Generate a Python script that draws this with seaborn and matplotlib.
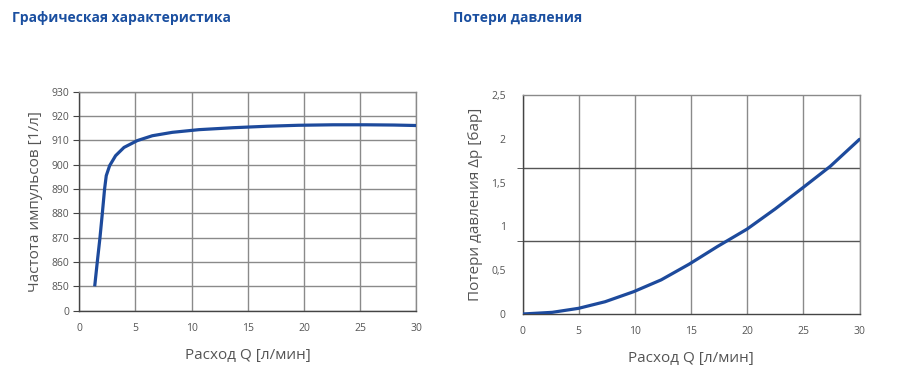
import numpy as np
import pandas as pd
import matplotlib
matplotlib.use('Agg')
import matplotlib.pyplot as plt
import seaborn as sns

# Графическая характеристика: расход [л/мин] -> частота импульсов [1/л]
flow_freq = [1.37, 1.6, 1.84, 2.05, 2.25, 2.4, 2.7, 3.23, 3.98, 5.16, 6.5, 8.28, 10.65,
             13.7, 16.7, 19.5, 22.6, 25.5, 28.0, 30.0]
freq = [850.0, 860.0, 870.0, 880.0, 890.0, 895.5, 899.6, 903.7, 907.1, 909.9, 911.9, 913.3, 914.4,
        915.2, 915.8, 916.2, 916.4, 916.4, 916.3, 916.1]
freq_ticks = [840, 850, 860, 870, 880, 890, 900, 910, 920, 930]
freq_labels = ['0', '850', '860', '870', '880', '890', '900', '910', '920', '930']

# Потери давления: расход [л/мин] -> Δp [бар]
flow_dp = [0, 2.65, 5, 7.35, 9.9, 12.35, 14.85, 17.35, 20, 22.5, 25, 27.4, 30]
dp = [0.0, 0.019, 0.065, 0.14, 0.255, 0.39, 0.57, 0.77, 0.97, 1.2, 1.446, 1.686, 1.994]
dp_values = [0, 0.5, 1, 1.5, 2, 2.5]
dp_labels = ['0', '0,5', '1', '1,5', '2', '2,5']

x_ticks = [0, 5, 10, 15, 20, 25, 30]

sns.set_style('white')
plt.rcParams['font.family'] = ['Open Sans', 'DejaVu Sans']

line_color = '#1d4a9c'
grid_color = '#8a8a8a'
text_color = '#555555'

fig = plt.figure(figsize=(9, 3.8), dpi=100)
W, H = 900, 380
ax1 = fig.add_axes([79.3 / W, 1 - 310.7 / H, 337 / W, 219 / H])
ax2 = fig.add_axes([522.5 / W, 1 - 314 / H, 337 / W, 219 / H])

df1 = pd.DataFrame({'Q': flow_freq, 'f': freq})
df2 = pd.DataFrame({'Q': flow_dp, 'dp': dp})

# левый график
ax1.set_xlim(0, 30)
ax1.set_ylim(840, 930)
ax1.set_xticks(x_ticks)
ax1.set_yticks(freq_ticks)
ax1.set_yticklabels(freq_labels)
ax1.grid(True, color=grid_color, lw=1)
sns.lineplot(data=df1, x='Q', y='f', ax=ax1, color=line_color, lw=2.3, zorder=3,
             solid_capstyle='butt')
ax1.set_xlabel('Расход Q [л/мин]', fontsize=11, color=text_color, labelpad=10)
ax1.set_ylabel('Частота импульсов [1/л]', fontsize=11, color=text_color, labelpad=6)
ax1.tick_params(axis='y', which='major', direction='out', length=4, color='#444444', left=True)

# правый график: подписи по шагу 0,5, линии сетки по третям
ax2.set_xlim(0, 30)
ax2.set_ylim(0, 2.5)
ax2.set_xticks(x_ticks)
ax2.set_yticks(dp_values)
ax2.set_yticklabels(dp_labels)
ax2.set_yticks([2.5 / 3, 5 / 3], minor=True)
ax2.tick_params(axis='y', which='major', length=0, pad=12)
ax2.tick_params(axis='y', which='minor', direction='out', length=4, color='#444444', left=True)
ax2.xaxis.grid(True, color=grid_color, lw=1)
ax2.yaxis.grid(True, which='minor', color='#555555', lw=1)
ax2.yaxis.grid(False, which='major')
sns.lineplot(data=df2, x='Q', y='dp', ax=ax2, color=line_color, lw=2.3, zorder=3)
ax2.set_xlabel('Расход Q [л/мин]', fontsize=11, color=text_color, labelpad=10)
ax2.set_ylabel('Потери давления Δр [бар]', fontsize=11, color=text_color, labelpad=6)

for ax in (ax1, ax2):
    ax.tick_params(axis='both', which='both', labelsize=7.5, labelcolor=text_color)
    ax.tick_params(axis='x', which='major', length=0, pad=9)
    for s in ax.spines.values():
        s.set_color(grid_color)
        s.set_linewidth(1)
    ax.spines['left'].set_color('#444444')
    ax.spines['bottom'].set_color('#444444')

fig.text(12 / W, 1 - 18 / H, 'Графическая характеристика', fontsize=10, fontweight='bold',
         color='#1a4fa0', va='center', ha='left')
fig.text(453 / W, 1 - 18 / H, 'Потери давления', fontsize=10, fontweight='bold',
         color='#1a4fa0', va='center', ha='left')

fig.savefig('out.png', dpi=100)
